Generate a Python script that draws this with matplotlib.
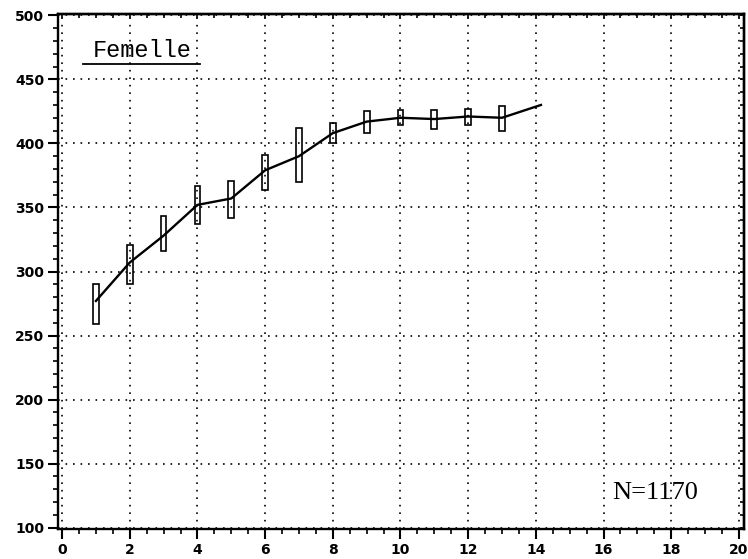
import matplotlib.pyplot as plt
from matplotlib.ticker import MultipleLocator

# age (years) and mean / range of each box
ages = [1, 2, 3, 4, 5, 6, 7, 8, 9, 10, 11, 12, 13]
means = [277, 307, 328, 352, 357, 379, 390, 408, 417, 420, 419, 421, 420]
box_low = [259, 290, 316, 337, 342, 364, 370, 400, 408, 414, 411, 414, 410]
box_high = [290, 321, 343, 367, 371, 391, 412, 416, 425, 426, 426, 427, 429]
line_x = ages + [14.15]
line_y = means + [430]

xticks = [0, 2, 4, 6, 8, 10, 12, 14, 16, 18, 20]
yticks = [100, 150, 200, 250, 300, 350, 400, 450, 500]

fig = plt.figure(figsize=(7.48, 5.59), dpi=100)
ax = fig.add_axes([58 / 748, 1 - 529 / 559, 686 / 748, 515 / 559])

ax.set_xlim(-0.12, 20.15)
ax.set_ylim(99, 501)

ax.grid(True, which='major', color='black', linestyle=(0, (1, 3.5)), linewidth=1.2)
ax.set_axisbelow(True)

ax.plot(line_x, line_y, color='black', linewidth=1.7, zorder=3)

heights = [h - l for h, l in zip(box_high, box_low)]
ax.bar(ages, heights, bottom=box_low, width=0.17, fill=False,
       edgecolor='black', linewidth=1.2, zorder=4)

ax.set_xticks(xticks)
ax.set_yticks(yticks)
ax.xaxis.set_minor_locator(MultipleLocator(0.5))
ax.yaxis.set_minor_locator(MultipleLocator(10))
ax.tick_params(which='major', direction='out', length=7, width=1.5,
               labelsize=10, pad=3)
ax.tick_params(which='minor', direction='out', length=3.5, width=1.2)
for lab in ax.get_xticklabels() + ax.get_yticklabels():
    lab.set_fontweight('bold')

# inward ticks on top and right
top = ax.secondary_xaxis('top')
top.set_xticks(xticks)
top.xaxis.set_minor_locator(MultipleLocator(0.5))
top.tick_params(which='both', direction='in', length=3, width=1.2,
                labeltop=False)
right = ax.secondary_yaxis('right')
right.set_yticks(yticks)
right.yaxis.set_minor_locator(MultipleLocator(10))
right.tick_params(which='both', direction='in', length=3, width=1.2,
                  labelright=False)

for sp in ax.spines.values():
    sp.set_linewidth(1.7)
top.spines['top'].set_linewidth(1.7)
right.spines['right'].set_linewidth(1.7)

ax.text(142 / 748, 1 - 57 / 559, 'Femelle', transform=fig.transFigure,
        family='Liberation Mono', fontsize=17, ha='center', va='baseline')
ax.plot([83 / 748, 200 / 748], [1 - 64 / 559, 1 - 64 / 559],
        transform=fig.transFigure, color='black', linewidth=1.3,
        clip_on=False)

ax.text(655 / 748, 1 - 499 / 559, 'N=1170', transform=fig.transFigure,
        family='Liberation Serif', fontsize=19, ha='center', va='baseline')

fig.savefig('out.png', dpi=100)
